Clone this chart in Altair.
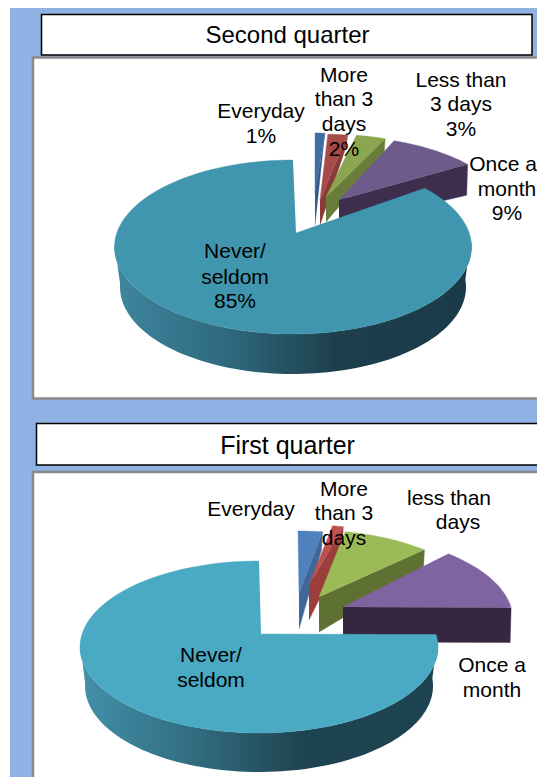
import math
import altair as alt
import pandas as pd

# ---- values ----
SERIES = ["Everyday", "More than 3 days", "Less than 3 days", "Once a month", "Never/seldom"]
second_quarter = [1, 2, 3, 9, 85]
first_quarter = [2.5, 1.1, 9, 13.3, 74.1]

second_title = "Second quarter"
first_title = "First quarter"

second_labels = [
    ("Everyday", 261, 112), ("1%", 261, 137),
    ("More", 344, 76), ("than 3", 344, 100), ("days", 344, 125), ("2%", 344, 150),
    ("Less than", 461, 81), ("3 days", 461, 105), ("3%", 461, 130),
    ("Once a", 503, 165), ("month", 507, 190), ("9%", 507, 214),
    ("Never/", 235, 252), ("seldom", 235, 278), ("85%", 235, 302),
]
first_labels = [
    ("Everyday", 251, 510),
    ("More", 344, 490), ("than 3", 344, 514), ("days", 344, 539),
    ("less than", 449, 499), ("days", 458, 523),
    ("Once a", 492, 666), ("month", 492, 691),
    ("Never/", 211, 656), ("seldom", 211, 681),
]

# ---- layout and style ----
FONT = "Liberation Sans"
PAGE_X, PAGE_Y = (8, 537), (8, 777)
X = alt.X("x:Q", scale=alt.Scale(domain=list(PAGE_X), nice=False, zero=False), axis=None)
Y = alt.Y("y:Q", scale=alt.Scale(domain=list(PAGE_Y), nice=False, zero=False, reverse=True), axis=None)

PIE_S = dict(
    shares=second_quarter, cx=293, cy=247, rx=178.5, ry=87, k=0.88,
    bottom=dict(cy=287, rx=173, ry=87),
    centers=[(315, 220), (318, 221), (327, 221), (336, 223)],
    apex=[(0, -27), (2, -21), (-1, -24), (3, -23), (3, -14)],
    depth=[(8, 32), (10, 25), (14, 25), (31, 25)],
    faces=["#3f6ea3", "#a64b49", "#8aa74f", "#6f5a8c", "#4096ae"],
    walls=["#33598a", "#8a3a38", "#687d3a", "#3c2e4c"],
    grad=["#3f869e", "#2f6b80", "#1d3f4c", "#1a3a47"],
)
PIE_F = dict(
    shares=first_quarter, cx=259, cy=647, rx=179, ry=86, k=0.876,
    bottom=dict(cy=686, rx=174, ry=86),
    centers=[(298, 617), (308, 611), (310, 616), (334, 620)],
    apex=[(1, -24), (1, -26), (9, -19), (9, -13), (2, -13)],
    depth=[(18, 36), (26, 35), (20, 35), (35, 35)],
    faces=["#4f81bd", "#c0504d", "#9bbb59", "#8064a2", "#4aa9c3"],
    walls=["#3f6898", "#9a3f3c", "#5e7032", "#35273f"],
    grad=["#4490a8", "#326f83", "#1f4451", "#1e4350"],
)


def rim(cx, cy, rx, ry, a, b):
    n = max(2, int(abs(b - a) / 2) + 1)
    out = []
    for j in range(n + 1):
        t = math.radians(a + (b - a) * j / n)
        out.append((cx + rx * math.sin(t), cy - ry * math.cos(t)))
    return out


def poly(points, fill, stroke=None):
    df = pd.DataFrame(points, columns=["x", "y"])
    df["i"] = range(len(df))
    return (
        alt.Chart(df)
        .mark_line(fill=fill, stroke=stroke or fill, strokeWidth=0.4)
        .encode(x=X, y=Y, order=alt.Order("i:Q"))
    )


def pie_layers(p):
    layers = []
    cum = 0.0
    thetas = []
    for s in p["shares"]:
        thetas.append((cum * 3.6 * p["k"], (cum + s) * 3.6 * p["k"]))
        cum += s
    for i in range(4):
        a, b = thetas[i]
        cx, cy = p["centers"][i]
        ax, ay = cx + p["apex"][i][0], cy + p["apex"][i][1]
        arc = rim(cx, cy, p["rx"], p["ry"], a, b)
        d1, d2 = p["depth"][i]
        ex, ey = arc[-1]
        layers.append(poly([(ax, ay), (ex, ey), (ex - 1, ey + d1), (ax, ay + d2)], p["walls"][i]))
        layers.append(poly([(ax, ay)] + arc, p["faces"][i]))
    # big slice: wall, then top face
    a = thetas[4][0]
    cx, cy, rx, ry = p["cx"], p["cy"], p["rx"], p["ry"]
    b = p["bottom"]
    wall_start = max(a, 85)
    top = rim(cx, cy, rx, ry, wall_start, 272)
    low = rim(cx, b["cy"], b["rx"], b["ry"], 272, wall_start)
    g = p["grad"]
    gradient = alt.Gradient(
        gradient="linear", x1=1, x2=0, y1=0, y2=0,
        stops=[
            alt.GradientStop(color=g[3], offset=0),
            alt.GradientStop(color=g[2], offset=0.38),
            alt.GradientStop(color=g[1], offset=0.7),
            alt.GradientStop(color=g[0], offset=1),
        ],
    )
    df = pd.DataFrame(top + low, columns=["x", "y"])
    df["i"] = range(len(df))
    layers.append(
        alt.Chart(df).mark_line(fill=gradient, strokeWidth=0, stroke="transparent")
        .encode(x=X, y=Y, order=alt.Order("i:Q"))
    )
    ax, ay = cx + p["apex"][4][0], cy + p["apex"][4][1]
    layers.append(poly([(ax, ay)] + rim(cx, cy, rx, ry, a, 360), p["faces"][4]))
    return layers


def box(x, x2, y, y2, fill, stroke=None, width=0):
    df = pd.DataFrame([dict(x=x, x2=x2, y=y, y2=y2)])
    kw = dict(fill=fill)
    if stroke:
        kw.update(stroke=stroke, strokeWidth=width)
    return alt.Chart(df).mark_rect(**kw).encode(x=X, x2="x2:Q", y=Y, y2="y2:Q")


def texts(rows, size):
    df = pd.DataFrame(rows, columns=["t", "x", "y"])
    return (
        alt.Chart(df)
        .mark_text(font=FONT, fontSize=size, color="#000000", align="center", baseline="middle")
        .encode(x=X, y=Y, text="t:N")
    )


layers = [
    box(10, 537, 8, 777, "#8db2e3"),
    box(33, 570, 57.5, 398.5, "#ffffff", "#8a8a8a", 2.5),
    box(33, 570, 472, 800, "#ffffff", "#8a8a8a", 2.5),
    box(41.5, 532, 14.5, 55, "#ffffff", "#000000", 1.5),
    box(36.5, 560, 423.5, 465, "#ffffff", "#000000", 1.5),
]
layers += pie_layers(PIE_S)
layers += pie_layers(PIE_F)
layers += [
    texts(second_labels, 21),
    texts(first_labels, 21),
    texts([(second_title, 287.5, 36)], 24),
    texts([(first_title, 287.5, 446)], 25),
]

chart = (
    alt.layer(*layers)
    .properties(width=529, height=769, padding=0, autosize=alt.AutoSizeParams(type="none"))
    .configure_view(stroke=None)
)
chart.save("out.html", embed_options={"renderer": "svg", "actions": False})
